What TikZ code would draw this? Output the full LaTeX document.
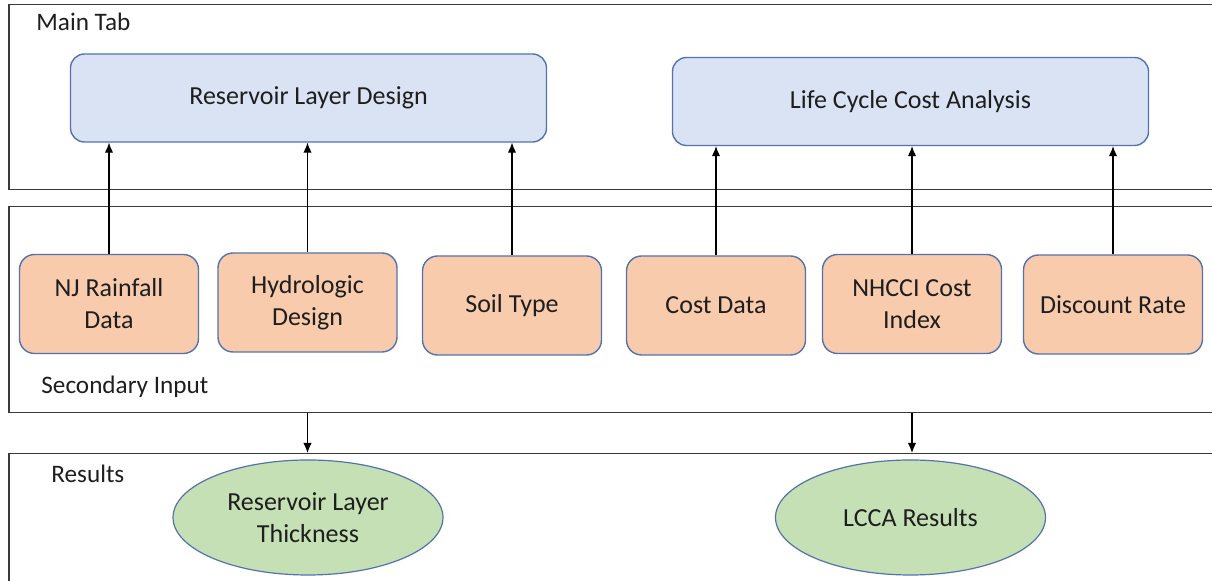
\documentclass[tikz,border=0pt]{standalone}
\usepackage{fontspec}
\setmainfont{Carlito}
\usetikzlibrary{arrows.meta,shapes.geometric}

\definecolor{panelline}{HTML}{3A3A3A}
\definecolor{shapeline}{HTML}{5472AE}
\definecolor{bluefill}{HTML}{DAE3F3}
\definecolor{orangefill}{HTML}{F8CBAD}
\definecolor{greenfill}{HTML}{C5E0B4}
\definecolor{ink}{HTML}{1E1E1E}

\tikzset{
  x=0.5pt, y=-0.5pt,
  every node/.style={text=ink, font=\fontsize{13}{16}\selectfont},
  panel/.style={draw=panelline, line width=0.75pt, rectangle, anchor=north west,
                inner sep=0pt, minimum width=1300*0.5pt},
  panellabel/.style={anchor=west, inner sep=0pt, font=\fontsize{12.6}{16}\selectfont},
  mainbox/.style={draw=shapeline, line width=0.7pt, fill=bluefill, rounded corners=7pt,
                  minimum width=476*0.5pt, minimum height=88*0.5pt, align=center},
  inputbox/.style={draw=shapeline, line width=0.7pt, fill=orangefill, rounded corners=7.5pt,
                   minimum width=179*0.5pt, minimum height=99*0.5pt, align=center},
  resultshape/.style={draw=shapeline, line width=0.6pt, fill=greenfill, ellipse,
                      minimum width=270*0.5pt, minimum height=115*0.5pt, inner sep=0pt, align=center},
  flow/.style={draw=black, line width=0.55pt, -{Latex[length=5pt,width=4.2pt]}}
}

\begin{document}
\begin{tikzpicture}
\useasboundingbox (0,0) rectangle (1212,581);
\clip (0,0) rectangle (1212,581);

% three horizontal panels, open to the right
\node[panel, minimum height=185*0.5pt] (maintab) at (8,4) {};
\node[panel, minimum height=206*0.5pt] (secondary) at (8,206) {};
\node[panel, minimum height=200*0.5pt] (results) at (8,453) {};

\node[panellabel] (maintablbl) at (36,22) {Main Tab};
\node[panellabel] (secondarylbl) at (41,387) {Secondary Input};
\node[panellabel] (resultslbl) at (51,474) {Results};

% main tab modules
\node[mainbox] (rld) at (308.5,98) {Reservoir Layer Design};
\node[mainbox] (lcca) at (910.5,101.5) {Life Cycle Cost Analysis};

% secondary inputs
\node[inputbox] (nj) at (109,304) {NJ Rainfall\\Data};
\node[inputbox] (hyd) at (307.5,302.5) {Hydrologic\\Design};
\node[inputbox] (soil) at (512,305.5) {Soil Type};
\node[inputbox] (cost) at (716,305.5) {Cost Data};
\node[inputbox] (nhcci) at (912,304) {NHCCI Cost\\Index};
\node[inputbox] (disc) at (1113,304.5) {Discount Rate};

% results
\node[resultshape] (thick) at (308,517.5) {Reservoir Layer\\Thickness};
\node[resultshape] (lccares) at (910.5,517.5) {LCCA Results};

% inputs feeding the modules
\foreach \src/\dst in {nj/rld, hyd/rld, soil/rld, cost/lcca, nhcci/lcca, disc/lcca}
  \draw[flow] (\src.north) -- (\dst.south -| \src.north);

% panel to panel
\draw[flow] (secondary.south -| hyd.south) -- (results.north -| hyd.south);
\draw[flow] (secondary.south -| nhcci.south) -- (results.north -| nhcci.south);
\end{tikzpicture}
\end{document}
